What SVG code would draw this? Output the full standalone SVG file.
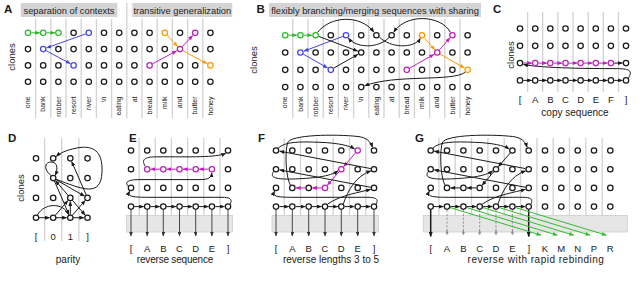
<svg xmlns="http://www.w3.org/2000/svg" width="640" height="283" viewBox="0 0 640 283">
<defs>
<marker id="ak" viewBox="0 0 10 8" refX="9" refY="4" markerWidth="5" markerHeight="4" markerUnits="userSpaceOnUse" orient="auto"><path d="M0,0L10,4L0,8z" fill="#1a1a1a"/></marker>
<marker id="ag" viewBox="0 0 10 8" refX="9" refY="4" markerWidth="5" markerHeight="4" markerUnits="userSpaceOnUse" orient="auto"><path d="M0,0L10,4L0,8z" fill="#2eb82e"/></marker>
<marker id="ab" viewBox="0 0 10 8" refX="9" refY="4" markerWidth="5" markerHeight="4" markerUnits="userSpaceOnUse" orient="auto"><path d="M0,0L10,4L0,8z" fill="#4646e6"/></marker>
<marker id="am" viewBox="0 0 10 8" refX="9" refY="4" markerWidth="5" markerHeight="4" markerUnits="userSpaceOnUse" orient="auto"><path d="M0,0L10,4L0,8z" fill="#bf1fbf"/></marker>
<marker id="ao" viewBox="0 0 10 8" refX="9" refY="4" markerWidth="5" markerHeight="4" markerUnits="userSpaceOnUse" orient="auto"><path d="M0,0L10,4L0,8z" fill="#ff9900"/></marker>
<marker id="an" viewBox="0 0 10 8" refX="9" refY="4" markerWidth="5" markerHeight="4" markerUnits="userSpaceOnUse" orient="auto"><path d="M0,0L10,4L0,8z" fill="#33bb33"/></marker>
<marker id="av" viewBox="0 0 10 8" refX="9" refY="4" markerWidth="4.4" markerHeight="3.5" markerUnits="userSpaceOnUse" orient="auto"><path d="M0,0L10,4L0,8z" fill="#333"/></marker>
</defs>
<style>
text{font-family:"Liberation Sans",Arial,sans-serif;fill:#1a1a1a}
.pl{font-size:11.5px;font-weight:bold}
.hd{font-size:9.3px;fill:#222;text-anchor:middle}
.w{font-size:7px;text-anchor:end}
.cl{font-size:9.5px;text-anchor:middle}
.lb{font-size:9.5px;text-anchor:middle}
.cap{font-size:10px;text-anchor:middle}
.ce{letter-spacing:-0.2px}
.cg2{letter-spacing:0.5px}
.hbox{fill:#d4d4d4}
.grid{fill:none;stroke:#d2d2d2;stroke-width:1.3}
.box{fill:#e6e6e6;stroke:#cdcdcd;stroke-width:0.8}
circle{fill:#fff;stroke:#1a1a1a;stroke-width:1.25}
.g circle{stroke:#2eb82e}
.b circle{stroke:#4646e6}
.m circle{stroke:#bf1fbf}
.o circle{stroke:#ff9900}
.e{fill:none;stroke:#1a1a1a;stroke-width:1;marker-end:url(#ak)}
.e.cg{stroke:#2eb82e;marker-end:url(#ag)}
.e.cb{stroke:#4646e6;marker-end:url(#ab)}
.e.cm{stroke:#bf1fbf;marker-end:url(#am)}
.e.co{stroke:#ff9900;marker-end:url(#ao)}
.e.cn{stroke:#33bb33;marker-end:url(#an)}
.v{fill:none;stroke:#333;stroke-width:0.9;marker-end:url(#av)}
.vk{fill:none;stroke:#1a1a1a;stroke-width:1.5;marker-end:url(#ak)}
.vd{fill:none;stroke:#8a8a8a;stroke-width:0.9;stroke-dasharray:2.2 1.6}
.up{fill:#8a8a8a}
</style>

<!-- ===== static backgrounds, grids, labels ===== -->
<g id="panelA-frame">
<text class="pl" x="4" y="13">A</text>
<rect class="hbox" x="20.7" y="3" width="96.6" height="14"/>
<text class="hd" x="69" y="13.5">separation of contexts</text>
<rect class="hbox" x="132.3" y="3" width="100" height="14"/>
<text class="hd" x="182.3" y="13.5">transitive generalization</text>
<path class="grid" d="M35.6,19V118M50.8,19V118M66,19V118M81.2,19V118M96.4,19V118M111.6,19V118M126.8,3V118M142,19V118M157.2,19V118M172.4,19V118M187.6,19V118M202.8,19V118"/>
<text class="cl" transform="translate(15,57) rotate(-90)">clones</text>
<text class="w" transform="translate(30.2,96.5) rotate(-90)">one</text>
<text class="w" transform="translate(45.4,96.5) rotate(-90)">bank</text>
<text class="w" transform="translate(60.6,96.5) rotate(-90)">robber</text>
<text class="w" transform="translate(75.8,96.5) rotate(-90)">resort</text>
<text class="w" transform="translate(91,96.5) rotate(-90)">river</text>
<text class="w" transform="translate(106.2,96.5) rotate(-90)">\n</text>
<text class="w" transform="translate(121.4,96.5) rotate(-90)">eating</text>
<text class="w" transform="translate(136.6,96.5) rotate(-90)">at</text>
<text class="w" transform="translate(151.8,96.5) rotate(-90)">bread</text>
<text class="w" transform="translate(167,96.5) rotate(-90)">milk</text>
<text class="w" transform="translate(182.2,96.5) rotate(-90)">and</text>
<text class="w" transform="translate(197.4,96.5) rotate(-90)">butter</text>
<text class="w" transform="translate(212.6,96.5) rotate(-90)">honey</text>
</g>

<g id="panelB-frame">
<text class="pl" x="256.5" y="12.5">B</text>
<rect class="hbox" x="269" y="3" width="212" height="14"/>
<text class="hd" x="375" y="13.5">flexibly branching/merging sequences with sharing</text>
<path class="grid" d="M292.8,19V118M308,19V118M323.2,19V118M338.4,19V118M353.6,19V118M368.8,19V118M384,19V118M399.2,19V118M414.4,19V118M429.6,19V118M444.8,19V118M460,19V118"/>
<text class="cl" transform="translate(256.5,60) rotate(-90)">clones</text>
<text class="w" transform="translate(287.4,96.5) rotate(-90)">one</text>
<text class="w" transform="translate(302.6,96.5) rotate(-90)">bank</text>
<text class="w" transform="translate(317.8,96.5) rotate(-90)">robber</text>
<text class="w" transform="translate(333,96.5) rotate(-90)">resort</text>
<text class="w" transform="translate(348.2,96.5) rotate(-90)">river</text>
<text class="w" transform="translate(363.4,96.5) rotate(-90)">\n</text>
<text class="w" transform="translate(378.6,96.5) rotate(-90)">eating</text>
<text class="w" transform="translate(393.8,96.5) rotate(-90)">at</text>
<text class="w" transform="translate(409,96.5) rotate(-90)">bread</text>
<text class="w" transform="translate(424.2,96.5) rotate(-90)">milk</text>
<text class="w" transform="translate(439.4,96.5) rotate(-90)">and</text>
<text class="w" transform="translate(454.6,96.5) rotate(-90)">butter</text>
<text class="w" transform="translate(469.8,96.5) rotate(-90)">honey</text>
</g>

<g id="panelC-frame">
<text class="pl" x="493" y="12.5">C</text>
<path class="grid" d="M527.6,12V92M542.7,12V92M557.9,12V92M573,12V92M588.2,12V92M603.3,12V92M618.5,12V92"/>
<text class="cl" transform="translate(514.3,55) rotate(-90)">clones</text>
<text class="lb" x="520" y="103">[</text>
<text class="lb" x="535.2" y="103">A</text>
<text class="lb" x="550.3" y="103">B</text>
<text class="lb" x="565.5" y="103">C</text>
<text class="lb" x="580.6" y="103">D</text>
<text class="lb" x="595.8" y="103">E</text>
<text class="lb" x="610.9" y="103">F</text>
<text class="lb" x="626" y="103">]</text>
<text class="cap" x="575" y="116">copy sequence</text>
</g>

<g id="panelD-frame">
<text class="pl" x="8" y="142.3">D</text>
<path class="grid" d="M44.6,138V241M61.7,138V241M78.9,138V241"/>
<text class="cl" transform="translate(24,188) rotate(-90)">clones</text>
<text class="lb" x="36" y="240">[</text>
<text class="lb" x="53.2" y="240">0</text>
<text class="lb" x="70.3" y="240">1</text>
<text class="lb" x="87.5" y="240">]</text>
<text class="cap" x="68" y="262.5">parity</text>
</g>

<g id="panelE-frame">
<text class="pl" x="129" y="142.3">E</text>
<path class="grid" d="M139.1,138V215.5M155.3,138V215.5M171.4,138V215.5M187.6,138V215.5M203.8,138V215.5M220,138V215.5"/>
<rect class="box" x="126.5" y="215.5" width="106" height="16.5"/>
<text class="lb" x="131" y="251.5">[</text>
<text class="lb" x="147.2" y="251.5">A</text>
<text class="lb" x="163.3" y="251.5">B</text>
<text class="lb" x="179.5" y="251.5">C</text>
<text class="lb" x="195.7" y="251.5">D</text>
<text class="lb" x="211.9" y="251.5">E</text>
<text class="lb" x="228" y="251.5">]</text>
<text class="cap ce" x="175" y="262.5">reverse sequence</text>
</g>

<g id="panelF-frame">
<text class="pl" x="258" y="142.3">F</text>
<path class="grid" d="M284.2,138V215.5M300.5,138V215.5M316.8,138V215.5M333.2,138V215.5M349.5,138V215.5M365.8,138V215.5"/>
<rect class="box" x="272" y="215.5" width="106.5" height="16.5"/>
<text class="lb" x="276" y="251.5">[</text>
<text class="lb" x="292.3" y="251.5">A</text>
<text class="lb" x="308.7" y="251.5">B</text>
<text class="lb" x="325" y="251.5">C</text>
<text class="lb" x="341.3" y="251.5">D</text>
<text class="lb" x="357.7" y="251.5">E</text>
<text class="lb" x="374" y="251.5">]</text>
<text class="cap" x="331" y="262.5">reverse lengths 3 to 5</text>
</g>

<g id="panelG-frame">
<text class="pl" x="415" y="142">G</text>
<path class="grid" d="M438.9,138V215.5M455.2,138V215.5M471.5,138V215.5M487.9,138V215.5M504.2,138V215.5M520.5,138V215.5M536.9,138V215.5M553.2,138V215.5M569.5,138V215.5M585.8,138V215.5M602.2,138V215.5"/>
<rect class="box" x="423.3" y="215.5" width="204" height="16.5"/>
<text class="lb" x="430.7" y="251.5">[</text>
<text class="lb" x="447" y="251.5">A</text>
<text class="lb" x="463.4" y="251.5">B</text>
<text class="lb" x="479.7" y="251.5">C</text>
<text class="lb" x="496" y="251.5">D</text>
<text class="lb" x="512.4" y="251.5">E</text>
<text class="lb" x="528.7" y="251.5">]</text>
<text class="lb" x="545" y="251.5">K</text>
<text class="lb" x="561.3" y="251.5">M</text>
<text class="lb" x="577.7" y="251.5">N</text>
<text class="lb" x="594" y="251.5">P</text>
<text class="lb" x="610.3" y="251.5">R</text>
<text class="cap cg2" x="536" y="262.5">reverse with rapid rebinding</text>
</g>

<!-- ===== connectors ===== -->
<g id="connectors">
<g id="edges-A">
<path class="e cg" d="M31.3,32.8H39.7"/>
<path class="e cg" d="M46.5,32.8H54.9"/>
<path class="e cb" d="M85.7,33.9L46.8,47.8"/>
<path class="e cb" d="M46.1,50.7L70.3,63.6"/>
<path class="e co" d="M167,35.2L177.4,46.3"/>
<path class="e co" d="M182.9,50.7L207,63.6"/>
<path class="e cm" d="M152.5,63.8L176.6,50.9"/>
<path class="e cm" d="M182.2,46.7L192.6,35.6"/>
</g>
<g id="edges-B">
<path class="e cg" d="M288.5,35.2H296.7"/>
<path class="e cg" d="M303.7,35.2H311.9"/>
<path class="e cb" d="M342.9,36.4L304,51.1"/>
<path class="e cb" d="M303.3,54.1L327.5,67.9"/>
<path class="e co" d="M424.2,37.7L434.7,49.6"/>
<path class="e co" d="M440.1,54.1L464.3,67.9"/>
<path class="e cm" d="M409.7,68.1L433.9,54.4"/>
<path class="e cm" d="M439.4,50L449.9,38"/>
<path class="e" d="M318.7,36.4L357.6,51.1"/>
<path class="e" d="M333.7,68.1L357.9,54.4"/>
<path class="e" d="M317.5,32.5C330,16 360,14 373.8,32"/>
<path class="e" d="M450.5,32.3C440,14 405,14 393.9,32.1"/>
<path class="e" d="M379.3,37C390,48 414,49 420.3,38.4"/>
<path class="e" d="M389.2,37.4C378,49 356,48 348.4,38.2"/>
<path class="e" d="M465.2,72.3C452,82 395,74 364.8,85.8"/>
</g>
<g id="edges-C">
<path class="e" d="M523.3,80.4H531.6"/>
<path class="e" d="M538.5,80.4H546.7"/>
<path class="e" d="M553.6,80.4H561.9"/>
<path class="e" d="M568.8,80.4H577"/>
<path class="e" d="M583.9,80.4H592.2"/>
<path class="e" d="M599.1,80.4H607.3"/>
<path class="e" d="M614.2,80.4H622.4"/>
<path class="e cm" d="M523.3,63.1H531.6"/>
<path class="e cm" d="M538.5,63.1H546.7"/>
<path class="e cm" d="M553.6,63.1H561.9"/>
<path class="e cm" d="M568.8,63.1H577"/>
<path class="e cm" d="M583.9,63.1H592.2"/>
<path class="e cm" d="M599.1,63.1H607.3"/>
<path class="e" d="M614.2,63.1H622.4"/>
<path class="e" d="M628.6,78C633,70 629,68.6 615,68.6C590,68.6 545,68.3 523.5,64.6"/>
</g>
<g id="edges-D">
<path class="e" d="M38.8,217.7H49.5"/>
<path class="e" d="M56,217.7H66.6"/>
<path class="e" d="M73.1,217.7H83.8"/>
<path class="e" d="M70.3,214.9V201.6"/>
<path class="e" d="M55.2,215.4L67.9,200.6"/>
<path class="e" d="M72.3,200.2L85.1,215"/>
<path class="e" d="M72.3,215.4L85.1,200.6"/>
<path class="e" d="M55.8,179.6L84.4,196.1"/>
<path class="e" d="M68.3,195.6L55.6,180.8"/>
<path class="e" d="M86.3,195.2L71.7,161.6"/>
<path class="e" d="M54.4,180.9L68.9,214.4"/>
<path class="e" d="M51.2,175.7C43,169 45,162 51,162C57,162 58.5,168 55.2,175.3"/>
<path class="e" d="M56.2,179.3C82,189 101,198 102,172C103,150 92,146 80,147.5C70,149 61,152 56.3,156.4"/>
<path class="e" d="M37.5,214.9C44,203 63,202 68.6,214.6"/>
</g>
<g id="edges-E">
<path class="e" d="M134.3,206.6H143.6"/>
<path class="e" d="M150.5,206.6H159.7"/>
<path class="e" d="M166.6,206.6H175.9"/>
<path class="e" d="M182.8,206.6H192.1"/>
<path class="e" d="M199,206.6H208.3"/>
<path class="e" d="M215.2,206.6H224.4"/>
<path class="e cm" d="M208.6,169.2H199.3"/>
<path class="e cm" d="M192.4,169.2H183.1"/>
<path class="e cm" d="M176.2,169.2H166.9"/>
<path class="e cm" d="M160,169.2H150.8"/>
<path class="e" d="M145.2,166.2C140.5,158.5 146,156.8 158,156.8C190,156.8 216,157.6 225.6,153.4"/>
<path class="e" d="M230.4,203.9C233.5,196.5 226,197.3 212,197.3L150,197.3C134,197.3 126.5,197 129.6,191.2"/>
<path class="e" d="M128.3,186.3C124,181.5 129,179.6 140,179.6L200,179.6C208.5,179.6 211.5,177.5 211.8,172.9"/>
<path class="v" d="M131,209.6V236"/>
<path class="v" d="M147.2,209.6V236"/>
<path class="v" d="M163.3,209.6V236"/>
<path class="v" d="M179.5,209.6V236"/>
<path class="v" d="M195.7,209.6V236"/>
<path class="v" d="M211.9,209.6V236"/>
<path class="v" d="M228,209.6V236"/>
</g>
<g id="edges-F">
<path class="e" d="M279.3,206.6H288.7"/>
<path class="e" d="M295.6,206.6H305.1"/>
<path class="e" d="M312,206.6H321.4"/>
<path class="e" d="M328.3,206.6H337.7"/>
<path class="e" d="M344.6,206.6H354.1"/>
<path class="e" d="M361,206.6H370.4"/>
<path class="e cm" d="M355.7,152.8L343.7,166.5"/>
<path class="e cm" d="M339.3,171.5L327.4,185.2"/>
<path class="e cm" d="M321.7,187.9H312.4"/>
<path class="e cm" d="M305.4,187.9H296"/>
<path class="e" d="M290.3,185.2C285.5,176 285,152 287.5,143C290,134.5 335,134 358,136.5C366,137.5 370.5,141 372.4,147.2"/>
<path class="e" d="M370.8,168.6L279.7,151.2"/>
<path class="e" d="M370.8,187.3L279.7,169.9"/>
<path class="e" d="M278.2,148.1C285,141.5 300,141.5 320,142.3C338,143 349,145.5 354.4,148.9"/>
<path class="e" d="M273.8,171.4C269,177.5 276,179.5 292,179C312,178.5 331,176.5 337.9,170.8"/>
<path class="e" d="M376.4,203.9C379.5,196.5 372,197.3 358,197.3L295,197.3C279,197.3 271.5,197 274.6,191.2"/>
<path class="e" d="M327.6,204.1C340,195 362,192 370.5,189.3"/>
<path class="e" d="M343.4,203.8C348,190 356,176 370.8,171"/>
<path class="v" d="M276,209.6V236"/>
<path class="v" d="M292.3,209.6V236"/>
<path class="v" d="M308.7,209.6V236"/>
<path class="v" d="M325,209.6V236"/>
<path class="v" d="M341.3,209.6V236"/>
<path class="v" d="M357.7,209.6V236"/>
<path class="v" d="M374,209.6V236"/>
</g>
<g id="edges-G">
<g transform="translate(154.7,0)">
<path class="e" d="M279.3,206.6H288.7"/>
<path class="e" d="M295.6,206.6H305.1"/>
<path class="e" d="M312,206.6H321.4"/>
<path class="e" d="M328.3,206.6H337.7"/>
<path class="e" d="M344.6,206.6H354.1"/>
<path class="e" d="M361,206.6H370.4"/>
<path class="e" d="M355.7,152.8L343.7,166.5"/>
<path class="e" d="M339.3,171.5L327.4,185.2"/>
<path class="e" d="M321.7,187.9H312.4"/>
<path class="e" d="M305.4,187.9H296"/>
<path class="e" d="M290.3,185.2C285.5,176 285,152 287.5,143C290,134.5 335,134 358,136.5C366,137.5 370.5,141 372.4,147.2"/>
<path class="e" d="M370.8,168.6L279.7,151.2"/>
<path class="e" d="M370.8,187.3L279.7,169.9"/>
<path class="e" d="M278.2,148.1C285,141.5 300,141.5 320,142.3C338,143 349,145.5 354.4,148.9"/>
<path class="e" d="M273.8,171.4C269,177.5 276,179.5 292,179C312,178.5 331,176.5 337.9,170.8"/>
<path class="e" d="M376.4,203.9C379.5,196.5 372,197.3 358,197.3L295,197.3C279,197.3 271.5,197 274.6,191.2"/>
<path class="e" d="M327.6,204.1C340,195 362,192 370.5,189.3"/>
<path class="e" d="M343.4,203.8C348,190 356,176 370.8,171"/>
</g>
<path class="vk" d="M430.7,209.6V236.5"/>
<path class="vk" d="M528.7,209.6V236.5"/>
<path class="vd" d="M447,210V236"/>
<path class="vd" d="M463.4,210V236"/>
<path class="vd" d="M479.7,210V236"/>
<path class="vd" d="M496,210V236"/>
<path class="vd" d="M512.4,210V236"/>
<polygon class="up" points="445.4,233.6 447,229.8 448.6,233.6"/>
<polygon class="up" points="461.8,233.6 463.4,229.8 465,233.6"/>
<polygon class="up" points="478.1,233.6 479.7,229.8 481.3,233.6"/>
<polygon class="up" points="494.4,233.6 496,229.8 497.6,233.6"/>
<polygon class="up" points="510.8,233.6 512.4,229.8 514,233.6"/>
<path class="e cn" d="M449.9,207.5L541,235.2"/>
<path class="e cn" d="M466.3,207.5L557.3,235.2"/>
<path class="e cn" d="M482.6,207.5L573.7,235.2"/>
<path class="e cn" d="M498.9,207.5L590,235.2"/>
<path class="e cn" d="M515.3,207.5L606.3,235.2"/>
</g>
</g>

<!-- ===== nodes ===== -->
<g id="nodes-A">
<g id="a0-0" class="g"><circle cx="28" cy="32.8" r="2.7"/></g>
<g id="a0-1" class="g"><circle cx="43.2" cy="32.8" r="2.7"/></g>
<g id="a0-2" class="g"><circle cx="58.4" cy="32.8" r="2.7"/></g>
<g id="a0-3"><circle cx="73.6" cy="32.8" r="2.7"/></g>
<g id="a0-4" class="b"><circle cx="88.8" cy="32.8" r="2.7"/></g>
<g id="a0-5"><circle cx="104" cy="32.8" r="2.7"/></g>
<g id="a0-6"><circle cx="119.2" cy="32.8" r="2.7"/></g>
<g id="a0-7"><circle cx="134.4" cy="32.8" r="2.7"/></g>
<g id="a0-8"><circle cx="149.6" cy="32.8" r="2.7"/></g>
<g id="a0-9" class="o"><circle cx="164.8" cy="32.8" r="2.7"/></g>
<g id="a0-10"><circle cx="180" cy="32.8" r="2.7"/></g>
<g id="a0-11" class="m"><circle cx="195.2" cy="32.8" r="2.7"/></g>
<g id="a0-12"><circle cx="210.4" cy="32.8" r="2.7"/></g>
<g id="a1-0"><circle cx="28" cy="49.1" r="2.7"/></g>
<g id="a1-1" class="b"><circle cx="43.2" cy="49.1" r="2.7"/></g>
<g id="a1-2"><circle cx="58.4" cy="49.1" r="2.7"/></g>
<g id="a1-3"><circle cx="73.6" cy="49.1" r="2.7"/></g>
<g id="a1-4"><circle cx="88.8" cy="49.1" r="2.7"/></g>
<g id="a1-5"><circle cx="104" cy="49.1" r="2.7"/></g>
<g id="a1-6"><circle cx="119.2" cy="49.1" r="2.7"/></g>
<g id="a1-7"><circle cx="134.4" cy="49.1" r="2.7"/></g>
<g id="a1-8"><circle cx="149.6" cy="49.1" r="2.7"/></g>
<g id="a1-9"><circle cx="164.8" cy="49.1" r="2.7"/></g>
<g id="a1-10" class="m"><circle cx="180" cy="49.1" r="2.7"/></g>
<g id="a1-11"><circle cx="195.2" cy="49.1" r="2.7"/></g>
<g id="a1-12"><circle cx="210.4" cy="49.1" r="2.7"/></g>
<g id="a2-0"><circle cx="28" cy="65.4" r="2.7"/></g>
<g id="a2-1"><circle cx="43.2" cy="65.4" r="2.7"/></g>
<g id="a2-2"><circle cx="58.4" cy="65.4" r="2.7"/></g>
<g id="a2-3" class="b"><circle cx="73.6" cy="65.4" r="2.7"/></g>
<g id="a2-4"><circle cx="88.8" cy="65.4" r="2.7"/></g>
<g id="a2-5"><circle cx="104" cy="65.4" r="2.7"/></g>
<g id="a2-6"><circle cx="119.2" cy="65.4" r="2.7"/></g>
<g id="a2-7"><circle cx="134.4" cy="65.4" r="2.7"/></g>
<g id="a2-8" class="m"><circle cx="149.6" cy="65.4" r="2.7"/></g>
<g id="a2-9"><circle cx="164.8" cy="65.4" r="2.7"/></g>
<g id="a2-10"><circle cx="180" cy="65.4" r="2.7"/></g>
<g id="a2-11"><circle cx="195.2" cy="65.4" r="2.7"/></g>
<g id="a2-12" class="o"><circle cx="210.4" cy="65.4" r="2.7"/></g>
<g id="a3-0"><circle cx="28" cy="81.7" r="2.7"/></g>
<g id="a3-1"><circle cx="43.2" cy="81.7" r="2.7"/></g>
<g id="a3-2"><circle cx="58.4" cy="81.7" r="2.7"/></g>
<g id="a3-3"><circle cx="73.6" cy="81.7" r="2.7"/></g>
<g id="a3-4"><circle cx="88.8" cy="81.7" r="2.7"/></g>
<g id="a3-5"><circle cx="104" cy="81.7" r="2.7"/></g>
<g id="a3-6"><circle cx="119.2" cy="81.7" r="2.7"/></g>
<g id="a3-7"><circle cx="134.4" cy="81.7" r="2.7"/></g>
<g id="a3-8"><circle cx="149.6" cy="81.7" r="2.7"/></g>
<g id="a3-9"><circle cx="164.8" cy="81.7" r="2.7"/></g>
<g id="a3-10"><circle cx="180" cy="81.7" r="2.7"/></g>
<g id="a3-11"><circle cx="195.2" cy="81.7" r="2.7"/></g>
<g id="a3-12"><circle cx="210.4" cy="81.7" r="2.7"/></g>
</g>

<g id="nodes-B">
<g id="b0-0" class="g"><circle cx="285.2" cy="35.2" r="2.7"/></g>
<g id="b0-1" class="g"><circle cx="300.4" cy="35.2" r="2.7"/></g>
<g id="b0-2" class="g"><circle cx="315.6" cy="35.2" r="2.7"/></g>
<g id="b0-3"><circle cx="330.8" cy="35.2" r="2.7"/></g>
<g id="b0-4" class="b"><circle cx="346" cy="35.2" r="2.7"/></g>
<g id="b0-5"><circle cx="361.2" cy="35.2" r="2.7"/></g>
<g id="b0-6"><circle cx="376.4" cy="35.2" r="2.7"/></g>
<g id="b0-7"><circle cx="391.6" cy="35.2" r="2.7"/></g>
<g id="b0-8"><circle cx="406.8" cy="35.2" r="2.7"/></g>
<g id="b0-9" class="o"><circle cx="422" cy="35.2" r="2.7"/></g>
<g id="b0-10"><circle cx="437.2" cy="35.2" r="2.7"/></g>
<g id="b0-11" class="m"><circle cx="452.4" cy="35.2" r="2.7"/></g>
<g id="b0-12"><circle cx="467.6" cy="35.2" r="2.7"/></g>
<g id="b1-0"><circle cx="285.2" cy="52.5" r="2.7"/></g>
<g id="b1-1" class="b"><circle cx="300.4" cy="52.5" r="2.7"/></g>
<g id="b1-2"><circle cx="315.6" cy="52.5" r="2.7"/></g>
<g id="b1-3"><circle cx="330.8" cy="52.5" r="2.7"/></g>
<g id="b1-4"><circle cx="346" cy="52.5" r="2.7"/></g>
<g id="b1-5"><circle cx="361.2" cy="52.5" r="2.7"/></g>
<g id="b1-6"><circle cx="376.4" cy="52.5" r="2.7"/></g>
<g id="b1-7"><circle cx="391.6" cy="52.5" r="2.7"/></g>
<g id="b1-8"><circle cx="406.8" cy="52.5" r="2.7"/></g>
<g id="b1-9"><circle cx="422" cy="52.5" r="2.7"/></g>
<g id="b1-10" class="m"><circle cx="437.2" cy="52.5" r="2.7"/></g>
<g id="b1-11"><circle cx="452.4" cy="52.5" r="2.7"/></g>
<g id="b1-12"><circle cx="467.6" cy="52.5" r="2.7"/></g>
<g id="b2-0"><circle cx="285.2" cy="69.8" r="2.7"/></g>
<g id="b2-1"><circle cx="300.4" cy="69.8" r="2.7"/></g>
<g id="b2-2"><circle cx="315.6" cy="69.8" r="2.7"/></g>
<g id="b2-3" class="b"><circle cx="330.8" cy="69.8" r="2.7"/></g>
<g id="b2-4"><circle cx="346" cy="69.8" r="2.7"/></g>
<g id="b2-5"><circle cx="361.2" cy="69.8" r="2.7"/></g>
<g id="b2-6"><circle cx="376.4" cy="69.8" r="2.7"/></g>
<g id="b2-7"><circle cx="391.6" cy="69.8" r="2.7"/></g>
<g id="b2-8" class="m"><circle cx="406.8" cy="69.8" r="2.7"/></g>
<g id="b2-9"><circle cx="422" cy="69.8" r="2.7"/></g>
<g id="b2-10"><circle cx="437.2" cy="69.8" r="2.7"/></g>
<g id="b2-11"><circle cx="452.4" cy="69.8" r="2.7"/></g>
<g id="b2-12" class="o"><circle cx="467.6" cy="69.8" r="2.7"/></g>
<g id="b3-0"><circle cx="285.2" cy="87.1" r="2.7"/></g>
<g id="b3-1"><circle cx="300.4" cy="87.1" r="2.7"/></g>
<g id="b3-2"><circle cx="315.6" cy="87.1" r="2.7"/></g>
<g id="b3-3"><circle cx="330.8" cy="87.1" r="2.7"/></g>
<g id="b3-4"><circle cx="346" cy="87.1" r="2.7"/></g>
<g id="b3-5"><circle cx="361.2" cy="87.1" r="2.7"/></g>
<g id="b3-6"><circle cx="376.4" cy="87.1" r="2.7"/></g>
<g id="b3-7"><circle cx="391.6" cy="87.1" r="2.7"/></g>
<g id="b3-8"><circle cx="406.8" cy="87.1" r="2.7"/></g>
<g id="b3-9"><circle cx="422" cy="87.1" r="2.7"/></g>
<g id="b3-10"><circle cx="437.2" cy="87.1" r="2.7"/></g>
<g id="b3-11"><circle cx="452.4" cy="87.1" r="2.7"/></g>
<g id="b3-12"><circle cx="467.6" cy="87.1" r="2.7"/></g>
</g>

<g id="nodes-C">
<g id="c0-0"><circle cx="520" cy="28.5" r="2.7"/></g>
<g id="c0-1"><circle cx="535.2" cy="28.5" r="2.7"/></g>
<g id="c0-2"><circle cx="550.3" cy="28.5" r="2.7"/></g>
<g id="c0-3"><circle cx="565.5" cy="28.5" r="2.7"/></g>
<g id="c0-4"><circle cx="580.6" cy="28.5" r="2.7"/></g>
<g id="c0-5"><circle cx="595.8" cy="28.5" r="2.7"/></g>
<g id="c0-6"><circle cx="610.9" cy="28.5" r="2.7"/></g>
<g id="c0-7"><circle cx="626" cy="28.5" r="2.7"/></g>
<g id="c1-0"><circle cx="520" cy="45.8" r="2.7"/></g>
<g id="c1-1"><circle cx="535.2" cy="45.8" r="2.7"/></g>
<g id="c1-2"><circle cx="550.3" cy="45.8" r="2.7"/></g>
<g id="c1-3"><circle cx="565.5" cy="45.8" r="2.7"/></g>
<g id="c1-4"><circle cx="580.6" cy="45.8" r="2.7"/></g>
<g id="c1-5"><circle cx="595.8" cy="45.8" r="2.7"/></g>
<g id="c1-6"><circle cx="610.9" cy="45.8" r="2.7"/></g>
<g id="c1-7"><circle cx="626" cy="45.8" r="2.7"/></g>
<g id="c2-0"><circle cx="520" cy="63.1" r="2.7"/></g>
<g id="c2-1" class="m"><circle cx="535.2" cy="63.1" r="2.7"/></g>
<g id="c2-2" class="m"><circle cx="550.3" cy="63.1" r="2.7"/></g>
<g id="c2-3" class="m"><circle cx="565.5" cy="63.1" r="2.7"/></g>
<g id="c2-4" class="m"><circle cx="580.6" cy="63.1" r="2.7"/></g>
<g id="c2-5" class="m"><circle cx="595.8" cy="63.1" r="2.7"/></g>
<g id="c2-6" class="m"><circle cx="610.9" cy="63.1" r="2.7"/></g>
<g id="c2-7"><circle cx="626" cy="63.1" r="2.7"/></g>
<g id="c3-0"><circle cx="520" cy="80.4" r="2.7"/></g>
<g id="c3-1"><circle cx="535.2" cy="80.4" r="2.7"/></g>
<g id="c3-2"><circle cx="550.3" cy="80.4" r="2.7"/></g>
<g id="c3-3"><circle cx="565.5" cy="80.4" r="2.7"/></g>
<g id="c3-4"><circle cx="580.6" cy="80.4" r="2.7"/></g>
<g id="c3-5"><circle cx="595.8" cy="80.4" r="2.7"/></g>
<g id="c3-6"><circle cx="610.9" cy="80.4" r="2.7"/></g>
<g id="c3-7"><circle cx="626" cy="80.4" r="2.7"/></g>
</g>

<g id="nodes-D">
<g id="d0-0"><circle cx="36" cy="158.3" r="2.7"/></g>
<g id="d0-1"><circle cx="53.2" cy="158.3" r="2.7"/></g>
<g id="d0-2"><circle cx="70.3" cy="158.3" r="2.7"/></g>
<g id="d0-3"><circle cx="87.5" cy="158.3" r="2.7"/></g>
<g id="d1-0"><circle cx="36" cy="178.1" r="2.7"/></g>
<g id="d1-1"><circle cx="53.2" cy="178.1" r="2.7"/></g>
<g id="d1-2"><circle cx="70.3" cy="178.1" r="2.7"/></g>
<g id="d1-3"><circle cx="87.5" cy="178.1" r="2.7"/></g>
<g id="d2-0"><circle cx="36" cy="197.9" r="2.7"/></g>
<g id="d2-1"><circle cx="53.2" cy="197.9" r="2.7"/></g>
<g id="d2-2"><circle cx="70.3" cy="197.9" r="2.7"/></g>
<g id="d2-3"><circle cx="87.5" cy="197.9" r="2.7"/></g>
<g id="d3-0"><circle cx="36" cy="217.7" r="2.7"/></g>
<g id="d3-1"><circle cx="53.2" cy="217.7" r="2.7"/></g>
<g id="d3-2"><circle cx="70.3" cy="217.7" r="2.7"/></g>
<g id="d3-3"><circle cx="87.5" cy="217.7" r="2.7"/></g>
</g>

<g id="nodes-E">
<g id="e0-0"><circle cx="131" cy="150.5" r="2.7"/></g>
<g id="e0-1"><circle cx="147.2" cy="150.5" r="2.7"/></g>
<g id="e0-2"><circle cx="163.3" cy="150.5" r="2.7"/></g>
<g id="e0-3"><circle cx="179.5" cy="150.5" r="2.7"/></g>
<g id="e0-4"><circle cx="195.7" cy="150.5" r="2.7"/></g>
<g id="e0-5"><circle cx="211.9" cy="150.5" r="2.7"/></g>
<g id="e0-6"><circle cx="228" cy="150.5" r="2.7"/></g>
<g id="e1-0"><circle cx="131" cy="169.2" r="2.7"/></g>
<g id="e1-1" class="m"><circle cx="147.2" cy="169.2" r="2.7"/></g>
<g id="e1-2" class="m"><circle cx="163.3" cy="169.2" r="2.7"/></g>
<g id="e1-3" class="m"><circle cx="179.5" cy="169.2" r="2.7"/></g>
<g id="e1-4" class="m"><circle cx="195.7" cy="169.2" r="2.7"/></g>
<g id="e1-5" class="m"><circle cx="211.9" cy="169.2" r="2.7"/></g>
<g id="e1-6"><circle cx="228" cy="169.2" r="2.7"/></g>
<g id="e2-0"><circle cx="131" cy="187.9" r="2.7"/></g>
<g id="e2-1"><circle cx="147.2" cy="187.9" r="2.7"/></g>
<g id="e2-2"><circle cx="163.3" cy="187.9" r="2.7"/></g>
<g id="e2-3"><circle cx="179.5" cy="187.9" r="2.7"/></g>
<g id="e2-4"><circle cx="195.7" cy="187.9" r="2.7"/></g>
<g id="e2-5"><circle cx="211.9" cy="187.9" r="2.7"/></g>
<g id="e2-6"><circle cx="228" cy="187.9" r="2.7"/></g>
<g id="e3-0"><circle cx="131" cy="206.6" r="2.7"/></g>
<g id="e3-1"><circle cx="147.2" cy="206.6" r="2.7"/></g>
<g id="e3-2"><circle cx="163.3" cy="206.6" r="2.7"/></g>
<g id="e3-3"><circle cx="179.5" cy="206.6" r="2.7"/></g>
<g id="e3-4"><circle cx="195.7" cy="206.6" r="2.7"/></g>
<g id="e3-5"><circle cx="211.9" cy="206.6" r="2.7"/></g>
<g id="e3-6"><circle cx="228" cy="206.6" r="2.7"/></g>
</g>

<g id="nodes-F">
<g id="f0-0"><circle cx="276" cy="150.5" r="2.7"/></g>
<g id="f0-1"><circle cx="292.3" cy="150.5" r="2.7"/></g>
<g id="f0-2"><circle cx="308.7" cy="150.5" r="2.7"/></g>
<g id="f0-3"><circle cx="325" cy="150.5" r="2.7"/></g>
<g id="f0-4"><circle cx="341.3" cy="150.5" r="2.7"/></g>
<g id="f0-5" class="m"><circle cx="357.7" cy="150.5" r="2.7"/></g>
<g id="f0-6"><circle cx="374" cy="150.5" r="2.7"/></g>
<g id="f1-0"><circle cx="276" cy="169.2" r="2.7"/></g>
<g id="f1-1"><circle cx="292.3" cy="169.2" r="2.7"/></g>
<g id="f1-2"><circle cx="308.7" cy="169.2" r="2.7"/></g>
<g id="f1-3"><circle cx="325" cy="169.2" r="2.7"/></g>
<g id="f1-4" class="m"><circle cx="341.3" cy="169.2" r="2.7"/></g>
<g id="f1-5"><circle cx="357.7" cy="169.2" r="2.7"/></g>
<g id="f1-6"><circle cx="374" cy="169.2" r="2.7"/></g>
<g id="f2-0"><circle cx="276" cy="187.9" r="2.7"/></g>
<g id="f2-1"><circle cx="292.3" cy="187.9" r="2.7"/></g>
<g id="f2-2"><circle cx="308.7" cy="187.9" r="2.7"/></g>
<g id="f2-3" class="m"><circle cx="325" cy="187.9" r="2.7"/></g>
<g id="f2-4"><circle cx="341.3" cy="187.9" r="2.7"/></g>
<g id="f2-5"><circle cx="357.7" cy="187.9" r="2.7"/></g>
<g id="f2-6"><circle cx="374" cy="187.9" r="2.7"/></g>
<g id="f3-0"><circle cx="276" cy="206.6" r="2.7"/></g>
<g id="f3-1"><circle cx="292.3" cy="206.6" r="2.7"/></g>
<g id="f3-2"><circle cx="308.7" cy="206.6" r="2.7"/></g>
<g id="f3-3"><circle cx="325" cy="206.6" r="2.7"/></g>
<g id="f3-4"><circle cx="341.3" cy="206.6" r="2.7"/></g>
<g id="f3-5"><circle cx="357.7" cy="206.6" r="2.7"/></g>
<g id="f3-6"><circle cx="374" cy="206.6" r="2.7"/></g>
</g>

<g id="nodes-G">
<g id="g0-0"><circle cx="430.7" cy="150.5" r="2.7"/></g>
<g id="g0-1"><circle cx="447" cy="150.5" r="2.7"/></g>
<g id="g0-2"><circle cx="463.4" cy="150.5" r="2.7"/></g>
<g id="g0-3"><circle cx="479.7" cy="150.5" r="2.7"/></g>
<g id="g0-4"><circle cx="496" cy="150.5" r="2.7"/></g>
<g id="g0-5"><circle cx="512.4" cy="150.5" r="2.7"/></g>
<g id="g0-6"><circle cx="528.7" cy="150.5" r="2.7"/></g>
<g id="g0-7"><circle cx="545" cy="150.5" r="2.7"/></g>
<g id="g0-8"><circle cx="561.3" cy="150.5" r="2.7"/></g>
<g id="g0-9"><circle cx="577.7" cy="150.5" r="2.7"/></g>
<g id="g0-10"><circle cx="594" cy="150.5" r="2.7"/></g>
<g id="g0-11"><circle cx="610.3" cy="150.5" r="2.7"/></g>
<g id="g1-0"><circle cx="430.7" cy="169.2" r="2.7"/></g>
<g id="g1-1"><circle cx="447" cy="169.2" r="2.7"/></g>
<g id="g1-2"><circle cx="463.4" cy="169.2" r="2.7"/></g>
<g id="g1-3"><circle cx="479.7" cy="169.2" r="2.7"/></g>
<g id="g1-4"><circle cx="496" cy="169.2" r="2.7"/></g>
<g id="g1-5"><circle cx="512.4" cy="169.2" r="2.7"/></g>
<g id="g1-6"><circle cx="528.7" cy="169.2" r="2.7"/></g>
<g id="g1-7"><circle cx="545" cy="169.2" r="2.7"/></g>
<g id="g1-8"><circle cx="561.3" cy="169.2" r="2.7"/></g>
<g id="g1-9"><circle cx="577.7" cy="169.2" r="2.7"/></g>
<g id="g1-10"><circle cx="594" cy="169.2" r="2.7"/></g>
<g id="g1-11"><circle cx="610.3" cy="169.2" r="2.7"/></g>
<g id="g2-0"><circle cx="430.7" cy="187.9" r="2.7"/></g>
<g id="g2-1"><circle cx="447" cy="187.9" r="2.7"/></g>
<g id="g2-2"><circle cx="463.4" cy="187.9" r="2.7"/></g>
<g id="g2-3"><circle cx="479.7" cy="187.9" r="2.7"/></g>
<g id="g2-4"><circle cx="496" cy="187.9" r="2.7"/></g>
<g id="g2-5"><circle cx="512.4" cy="187.9" r="2.7"/></g>
<g id="g2-6"><circle cx="528.7" cy="187.9" r="2.7"/></g>
<g id="g2-7"><circle cx="545" cy="187.9" r="2.7"/></g>
<g id="g2-8"><circle cx="561.3" cy="187.9" r="2.7"/></g>
<g id="g2-9"><circle cx="577.7" cy="187.9" r="2.7"/></g>
<g id="g2-10"><circle cx="594" cy="187.9" r="2.7"/></g>
<g id="g2-11"><circle cx="610.3" cy="187.9" r="2.7"/></g>
<g id="g3-0"><circle cx="430.7" cy="206.6" r="2.7"/></g>
<g id="g3-1"><circle cx="447" cy="206.6" r="2.7"/></g>
<g id="g3-2"><circle cx="463.4" cy="206.6" r="2.7"/></g>
<g id="g3-3"><circle cx="479.7" cy="206.6" r="2.7"/></g>
<g id="g3-4"><circle cx="496" cy="206.6" r="2.7"/></g>
<g id="g3-5"><circle cx="512.4" cy="206.6" r="2.7"/></g>
<g id="g3-6"><circle cx="528.7" cy="206.6" r="2.7"/></g>
<g id="g3-7"><circle cx="545" cy="206.6" r="2.7"/></g>
<g id="g3-8"><circle cx="561.3" cy="206.6" r="2.7"/></g>
<g id="g3-9"><circle cx="577.7" cy="206.6" r="2.7"/></g>
<g id="g3-10"><circle cx="594" cy="206.6" r="2.7"/></g>
<g id="g3-11"><circle cx="610.3" cy="206.6" r="2.7"/></g>
</g>
</svg>
